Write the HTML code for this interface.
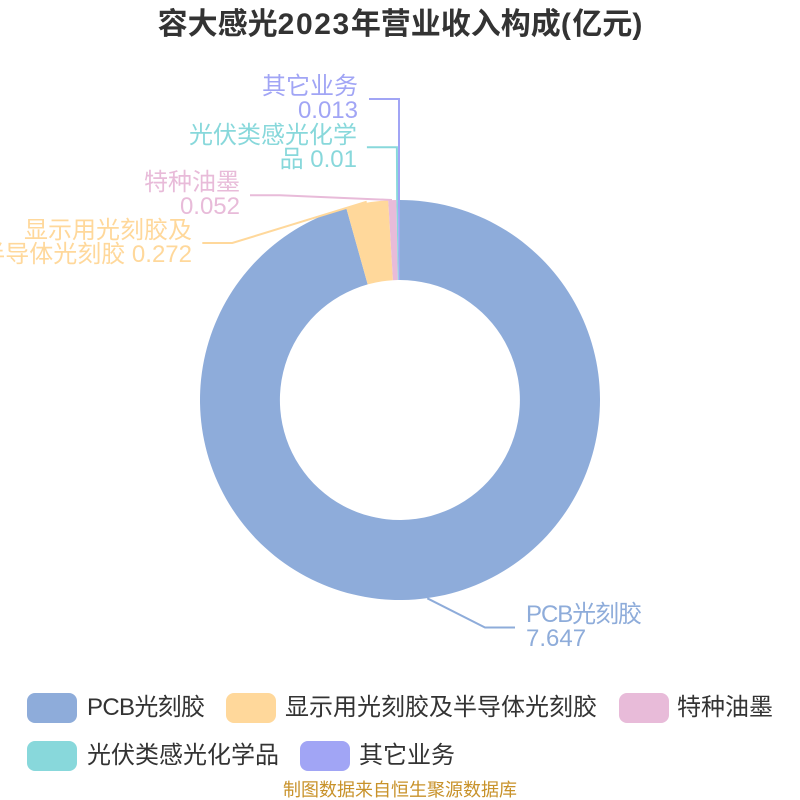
<!DOCTYPE html>
<html><head><meta charset="utf-8"><style>
html,body{margin:0;padding:0;background:#fff}
svg{display:block}
text{font-family:"Liberation Sans","Noto Sans CJK SC",sans-serif;font-size:24px}
</style></head><body>
<svg width="800" height="800" viewBox="0 0 800 800" xmlns="http://www.w3.org/2000/svg">
<text x="400" y="34" text-anchor="middle" font-weight="bold" style="font-size:30px" fill="#333">容大感光<tspan letter-spacing="1.6">2023</tspan>年营业收入构成<tspan letter-spacing="1.5">(</tspan>亿元<tspan>)</tspan></text>
<path d="M400 200A200 200 0 1 1 346.1 207.4L367.7 284.4A120 120 0 1 0 400 280Z" fill="#8eacda"/>
<path d="M346.1 207.4A200 200 0 0 1 388.2 200.35L392.9 280.2A120 120 0 0 0 367.7 284.4Z" fill="#ffd89b"/>
<path d="M388.2 200.35A200 200 0 0 1 396.4 200.03L397.8 280.02A120 120 0 0 0 392.9 280.2Z" fill="#e8bbd9"/>
<path d="M396.4 200.03A200 200 0 0 1 397.94 200.01L398.76 280A120 120 0 0 0 397.8 280.02Z" fill="#88d8db"/>
<path d="M397.94 200.01A200 200 0 0 1 400 200L400 280A120 120 0 0 0 398.76 280Z" fill="#a1a5f5"/>
<g fill="none" stroke-width="2">
<path d="M427.3 598.3L485 627.5L515 627.5" stroke="#8eacda"/>
<path d="M366.7 201.7L232.3 243L202.3 243" stroke="#ffd89b"/>
<path d="M392 200L280 195.3L250 195.3" stroke="#e8bbd9"/>
<path d="M397.2 200L396.9 147.3L366.9 147.3" stroke="#88d8db"/>
<path d="M399 200L399 99L369 99" stroke="#a1a5f5"/>
</g>
<g text-anchor="end">
<text x="358" y="94" fill="#a1a5f5">其它业务</text>
<text x="358" y="118" fill="#a1a5f5">0.013</text>
<text x="357" y="143" fill="#88d8db">光伏类感光化学</text>
<text x="357" y="167" fill="#88d8db">品 0.01</text>
<text x="240" y="190" fill="#e8bbd9">特种油墨</text>
<text x="240" y="214" fill="#e8bbd9">0.052</text>
<text x="192" y="238" fill="#ffd89b">显示用光刻胶及</text>
<text x="192" y="262" fill="#ffd89b">半导体光刻胶 0.272</text>
</g>
<text x="526" y="622" fill="#8eacda" textLength="116" lengthAdjust="spacing">PCB光刻胶</text>
<text x="526" y="646" fill="#8eacda">7.647</text>
<rect x="27" y="693" width="50" height="30" rx="8" fill="#8eacda"/>
<rect x="226" y="693" width="50" height="30" rx="8" fill="#ffd89b"/>
<rect x="619" y="693" width="50" height="30" rx="8" fill="#e8bbd9"/>
<rect x="27" y="741" width="50" height="30" rx="8" fill="#88d8db"/>
<rect x="300" y="741" width="50" height="30" rx="8" fill="#a1a5f5"/>
<g fill="#333">
<text x="87" y="715" textLength="118" lengthAdjust="spacing">PCB光刻胶</text>
<text x="285" y="715">显示用光刻胶及半导体光刻胶</text>
<text x="677" y="715">特种油墨</text>
<text x="87" y="763">光伏类感光化学品</text>
<text x="359" y="763">其它业务</text>
</g>
<text x="400" y="796" text-anchor="middle" style="font-size:18px" fill="#c8922a">制图数据来自恒生聚源数据库</text>
</svg>
</body></html>
